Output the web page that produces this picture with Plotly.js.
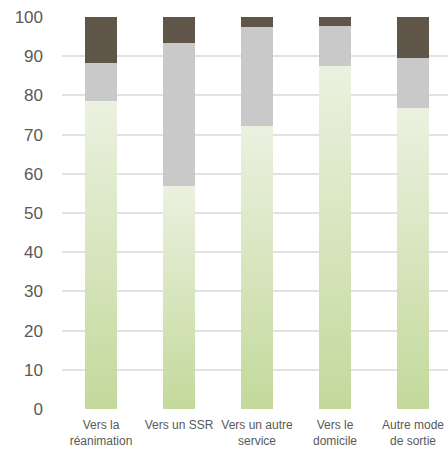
<!DOCTYPE html>
<html><head><meta charset="utf-8">
<script src="https://cdn.plot.ly/plotly-3.0.1.min.js"></script>
<style>html,body{margin:0;padding:0;overflow:hidden;background:#fff}</style>
</head><body>
<div id="chart"></div>
<script>
const categories = ["Vers la<br>réanimation", "Vers un SSR", "Vers un autre<br>service", "Vers le<br>domicile", "Autre mode<br>de sortie"];
const greenValues = [78.6, 57.0, 72.2, 87.5, 76.8];
const greyValues = [9.7, 36.4, 25.2, 10.2, 12.7];
const brownValues = [11.7, 6.6, 2.6, 2.3, 10.5];
const yTicks = [0, 10, 20, 30, 40, 50, 60, 70, 80, 90, 100];

const common = {type: 'bar', x: categories, width: 0.41, hoverinfo: 'none'};
const traces = [
  Object.assign({}, common, {y: greenValues, name: 'green', marker: {color: '#d4e4bb', line: {width: 0}}}),
  Object.assign({}, common, {y: greyValues, name: 'grey', marker: {color: '#c9c9c9', line: {width: 0}}}),
  Object.assign({}, common, {y: brownValues, name: 'brown', marker: {color: '#5f5649', line: {width: 0}}})
];
const layout = {
  width: 452, height: 449,
  margin: {l: 62, r: 0, t: 17, b: 40},
  barmode: 'stack',
  showlegend: false,
  paper_bgcolor: '#fff', plot_bgcolor: '#fff',
  font: {family: 'Liberation Sans, Arial, sans-serif', color: '#595959'},
  xaxis: {
    tickfont: {size: 12, color: '#595959'},
    showgrid: false, zeroline: false, showline: false, ticks: '', ticklabelstandoff: 7, fixedrange: true
  },
  yaxis: {
    range: [0, 100], tickvals: yTicks, ticktext: yTicks.map(String),
    tickfont: {size: 17, color: '#595959'},
    showgrid: true, gridcolor: '#e2e2e2', gridwidth: 2,
    zeroline: false, showline: false, ticks: '', ticklabelstandoff: 18, fixedrange: true
  }
};
Plotly.newPlot('chart', traces, layout, {displayModeBar: false, staticPlot: true}).then(gd => {
  const svg = gd.querySelector('svg.main-svg');
  const ns = 'http://www.w3.org/2000/svg';
  let defs = svg.querySelector('defs');
  if (!defs) { defs = document.createElementNS(ns, 'defs'); svg.insertBefore(defs, svg.firstChild); }
  const lg = document.createElementNS(ns, 'linearGradient');
  lg.setAttribute('id', 'greenGrad');
  lg.setAttribute('x1', '0'); lg.setAttribute('y1', '0'); lg.setAttribute('x2', '0'); lg.setAttribute('y2', '1');
  [['0', '#ebf1e0'], ['1', '#c3d99b']].forEach(([o, c]) => {
    const s = document.createElementNS(ns, 'stop');
    s.setAttribute('offset', o); s.setAttribute('stop-color', c);
    lg.appendChild(s);
  });
  defs.appendChild(lg);
  const traceGroups = svg.querySelectorAll('.barlayer .trace');
  traceGroups[0].querySelectorAll('path').forEach(p => { p.style.fill = 'url(#greenGrad)'; });
});
</script>
</body></html>
